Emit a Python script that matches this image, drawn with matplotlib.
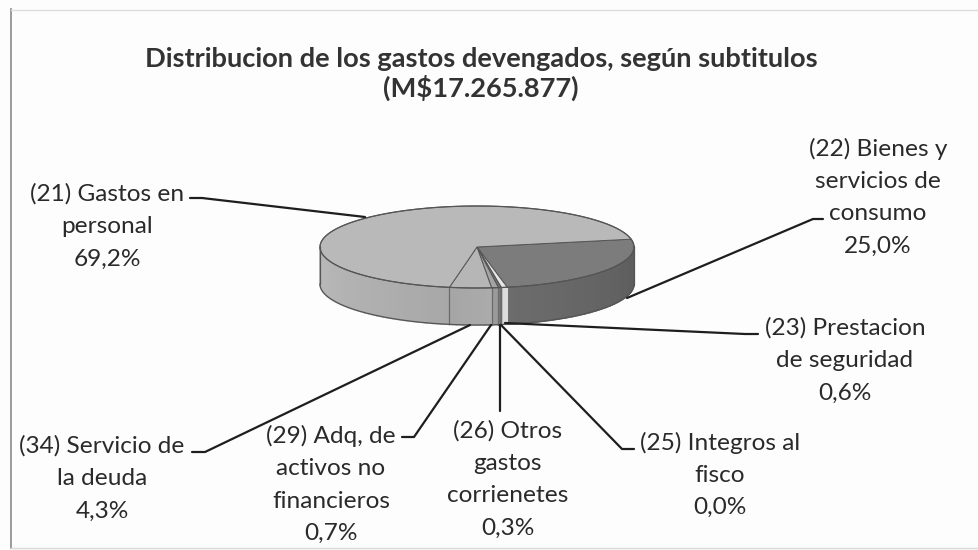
import numpy as np
import matplotlib
matplotlib.use("Agg")
import matplotlib.pyplot as plt
from matplotlib.patches import Polygon

title = "Distribucion de los gastos devengados, según subtitulos\n(M$17.265.877)"
codes = ["22", "23", "25", "26", "29", "34", "21"]
shares = [25.0, 0.6, 0.0, 0.3, 0.7, 4.3, 69.2]
labels = ["(22) Bienes y\nservicios de\nconsumo\n25,0%",
          "(23) Prestacion\nde seguridad\n0,6%",
          "(25) Integros al\nfisco\n0,0%",
          "(26) Otros\ngastos\ncorrienetes\n0,3%",
          "(29) Adq, de\nactivos no\nfinancieros\n0,7%",
          "(34) Servicio de\nla deuda\n4,3%",
          "(21) Gastos en\npersonal\n69,2%"]
label_xy = [(878, 197), (845, 360.5), (720, 475), (508, 479.5), (331, 484.5), (102, 478.5), (107, 226.5)]
leaders = [[(823, 219), (813, 219), (627, 298)],
           [(758, 334), (745, 334), (505, 323)],
           [(634, 449), (622, 449), (501, 325)],
           [(500, 411), (500, 325)],
           [(402, 437), (414, 437), (491, 325)],
           [(192, 452), (205, 452), (470, 325)],
           [(190, 198), (202, 198), (365, 217)]]
top_col = ["#7c7c7c", "#e6e6e6", "#999999", "#707070", "#a4a4a4", "#b6b6b6", "#b9b9b9"]
side_col = [("#5c5c5c", "#6c6c6c"), ("#dcdcdc", "#dcdcdc"), ("#8f8f8f", "#8f8f8f"),
            ("#6e6e6e", "#6e6e6e"), ("#9a9a9a", "#9a9a9a"), ("#ababab", "#a6a6a6"),
            ("#a8a8a8", "#bababa")]

cx, cy, a, b, depth = 477, 247, 157, 41, 37
start = 11.0
plt.rcParams["font.family"] = ["Lato", "DejaVu Sans"]
fig = plt.figure(figsize=(9.79, 5.5), dpi=100, facecolor="#fdfdfd")
ax = fig.add_axes([0, 0, 1, 1])
ax.set_xlim(0, 979)
ax.set_ylim(550, 0)
ax.axis("off")

def ell(t, dy=0):
    t = np.radians(t)
    return np.column_stack([cx + a * np.cos(t), cy - b * np.sin(t) + dy])

def mix(c1, c2, f):
    r1, r2 = np.array(matplotlib.colors.to_rgb(c1)), np.array(matplotlib.colors.to_rgb(c2))
    return r1 + (r2 - r1) * f

# chart frame of the scan
ax.plot([11, 11], [9, 548], color="#8a8a8a", lw=1.2)
ax.plot([11, 979], [10, 10], color="#dddddd", lw=1.0)
ax.plot([11, 979], [548, 548], color="#d8d8d8", lw=1.0)

edge = "#555555"
spans = 360 * np.array(shares) / sum(shares)
ang = start
for val, ct, cs in zip(spans, top_col, side_col):
    t0, t1 = ang, ang - val
    ang = t1
    hi, lo = min(t0, 0), max(t1, -180)
    if hi > lo and val > 0:
        edges = np.linspace(hi, lo, max(2, int((hi - lo) / 3) + 2))
        for i in range(len(edges) - 1):
            seg = np.linspace(edges[i], edges[i + 1], 4)
            f = i / max(1, len(edges) - 2)
            col = mix(cs[0], cs[1], f)
            pts = np.vstack([ell(seg), ell(seg[::-1], depth)])
            ax.add_patch(Polygon(pts, closed=True, fc=col, ec=col, lw=1.2, zorder=2))
        for e in (hi, lo):
            if -180 < e < 0 and abs(e - (start - spans[0])) > 0.01:
                p = np.vstack([ell([e]), ell([e], depth)])
                ax.plot(p[:, 0], p[:, 1], color="#6a6a6a", lw=0.8, zorder=3)
    if val > 0:
        arc = ell(np.linspace(t0, t1, max(3, int(val) + 2)))
        ax.add_patch(Polygon(np.vstack([[cx, cy], arc]), closed=True, fc=ct, ec=edge, lw=0.7, zorder=4))

rim = ell(np.linspace(0, 360, 361))
ax.plot(rim[:, 0], rim[:, 1], color=edge, lw=0.9, zorder=5)
low = ell(np.linspace(-180, 0, 181), depth)
ax.plot(low[:, 0], low[:, 1], color=edge, lw=0.9, zorder=5)
for t in (0, 180):
    p = np.vstack([ell([t]), ell([t], depth)])
    ax.plot(p[:, 0], p[:, 1], color=edge, lw=0.9, zorder=5)

for pts in leaders:
    p = np.array(pts)
    ax.plot(p[:, 0], p[:, 1], color="#1e1e1e", lw=1.6, solid_capstyle="round", zorder=6)

for txt, (x, y) in zip(labels, label_xy):
    ax.text(x, y, txt, ha="center", va="center", fontsize=17.6, color="#2a2a2a", linespacing=1.66, zorder=7)

ax.text(481, 74, title, ha="center", va="center", fontsize=19.6, fontweight="bold",
        color="#333333", linespacing=1.15, zorder=7)
fig.savefig("out.png", dpi=100, facecolor=fig.get_facecolor())
